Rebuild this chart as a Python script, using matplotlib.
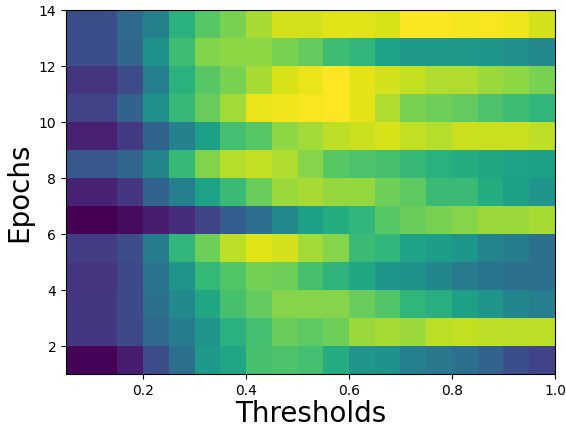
import numpy as np
import matplotlib
matplotlib.use('Agg')
import matplotlib.pyplot as plt

# colour level per threshold cell, one list per epoch row
epoch_1 = [.01, .01, .08, .23, .37, .54, .59, .71, .72, .70, .62, .52, .51, .43, .40, .37, .32, .24, .20]
epoch_2 = [.16, .16, .22, .34, .42, .52, .64, .70, .77, .75, .78, .85, .87, .85, .90, .91, .90, .90, .90]
epoch_3 = [.16, .16, .22, .37, .48, .60, .71, .76, .82, .82, .82, .77, .73, .66, .63, .57, .53, .46, .43]
epoch_4 = [.15, .15, .22, .38, .52, .67, .73, .79, .78, .71, .65, .60, .53, .51, .46, .41, .39, .37, .37]
epoch_5 = [.18, .18, .24, .42, .66, .78, .90, .95, .93, .86, .82, .68, .66, .58, .56, .53, .45, .42, .37]
epoch_6 = [.00, .00, .03, .08, .13, .21, .30, .36, .47, .57, .62, .66, .74, .77, .80, .82, .85, .85, .87]
epoch_7 = [.10, .10, .16, .32, .43, .58, .68, .77, .85, .87, .84, .84, .78, .75, .68, .68, .62, .57, .52]
epoch_8 = [.27, .27, .33, .46, .67, .81, .89, .91, .88, .82, .74, .72, .71, .67, .64, .62, .60, .58, .57]
epoch_9 = [.09, .09, .17, .32, .44, .57, .70, .74, .83, .86, .90, .92, .94, .91, .89, .92, .92, .92, .90]
epoch_10 = [.20, .20, .32, .50, .67, .77, .86, .97, .98, .99, 1.0, .96, .88, .80, .78, .76, .72, .69, .66]
epoch_11 = [.15, .15, .23, .43, .64, .74, .80, .87, .94, .97, 1.0, .96, .93, .91, .88, .88, .85, .83, .80]
epoch_12 = [.24, .24, .33, .51, .69, .81, .83, .83, .80, .76, .69, .66, .58, .54, .54, .54, .53, .50, .47]
epoch_13 = [.24, .24, .34, .44, .64, .74, .80, .87, .93, .93, .95, .95, .94, .995, .995, .985, .99, .98, .93]

x_ticks = [0.2, 0.4, 0.6, 0.8, 1.0]
y_ticks = [2, 4, 6, 8, 10, 12, 14]

scores = np.array([epoch_1, epoch_2, epoch_3, epoch_4, epoch_5, epoch_6, epoch_7,
                   epoch_8, epoch_9, epoch_10, epoch_11, epoch_12, epoch_13])

fig = plt.figure(figsize=(5.66, 4.29), dpi=100)
ax = fig.add_axes([66 / 566, 1 - 374 / 429, (555 - 66) / 566, (374 - 10) / 429])

ax.imshow(scores, origin='lower', cmap='viridis', vmin=0, vmax=1, aspect='auto',
          extent=[0.05, 1.0, 1, 14], interpolation='nearest')

ax.set_xticks(x_ticks)
ax.set_yticks(y_ticks)
ax.tick_params(labelsize=10)
ax.set_xlabel('Thresholds', fontsize=20, labelpad=2)
ax.set_ylabel('Epochs', fontsize=20)

fig.savefig('out.png', dpi=100)
